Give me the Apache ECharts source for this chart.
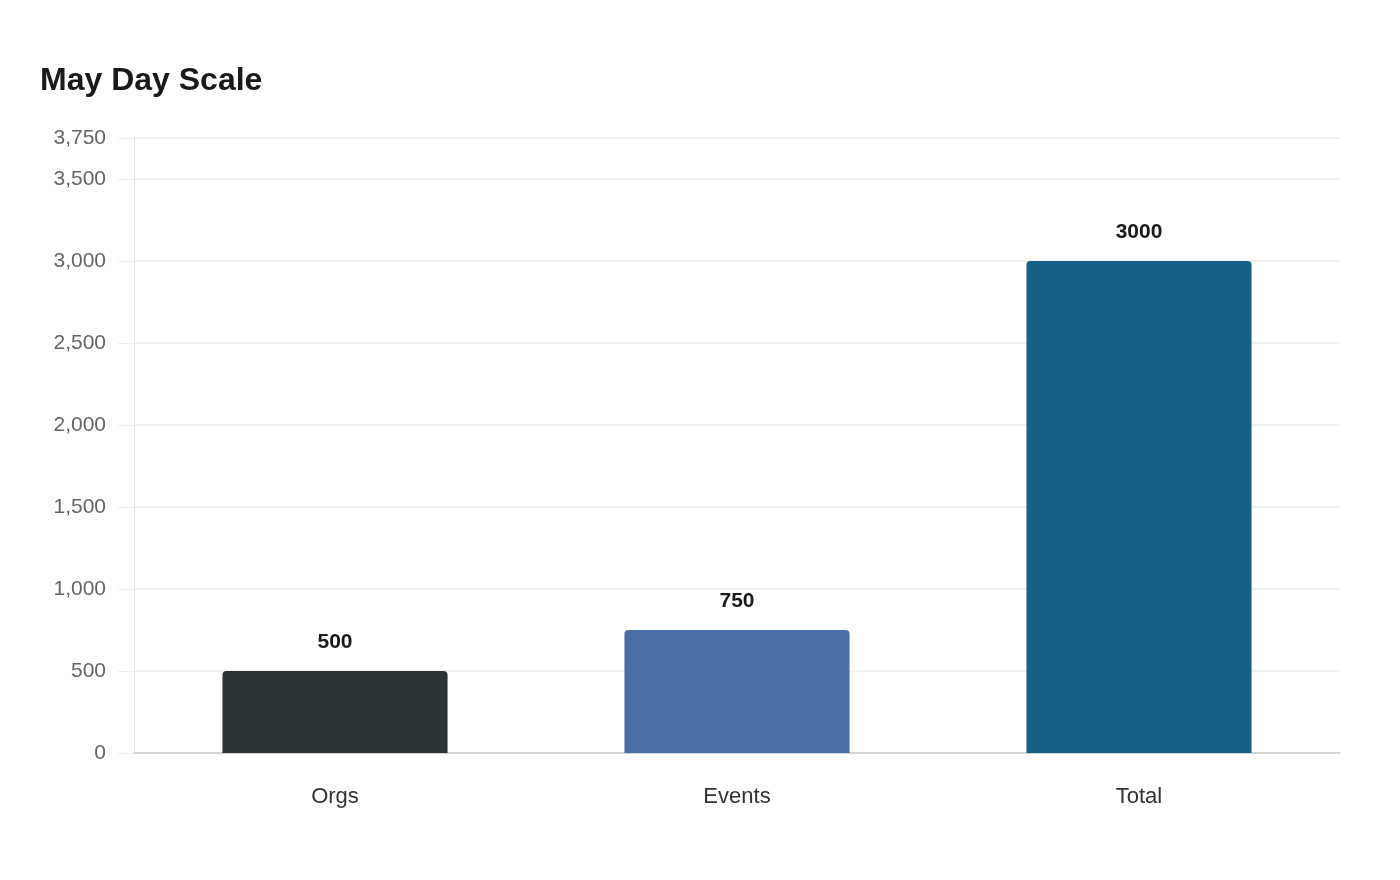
<!DOCTYPE html>
<html>
<head>
<meta charset="utf-8">
<script src="https://cdn.jsdelivr.net/npm/echarts@6/dist/echarts.min.js"></script>
<style>
	html, body { margin: 0; padding: 0; background: #fff; }
	#chart { width: 1400px; height: 880px; }
</style>
</head>
<body>
<div id="chart"></div>
<script>
// chart data
var categories = ['Orgs', 'Events', 'Total']
var values = [500, 750, 3000]
var barColors = ['#2d3436', '#4a6fa5', '#166088']

var fontName = '"Liberation Sans", Arial, sans-serif'

var myChart = echarts.init(document.getElementById('chart'))
var option = {
	animation: false,
	textStyle: { fontFamily: fontName },
	title: {
		text: 'May Day Scale',
		left: 35,
		top: 60,
		textStyle: {
			fontFamily: fontName,
			fontSize: 32,
			fontWeight: 'bold',
			color: '#1a1a1a'
		}
	},
	grid: {
		left: 134,
		right: 60,
		top: 138,
		bottom: 127
	},
	xAxis: {
		type: 'category',
		data: categories,
		axisTick: { show: false },
		axisLine: { lineStyle: { color: '#cccccc', width: 1.5 } },
		axisLabel: {
			margin: 33,
			fontFamily: fontName,
			fontSize: 22,
			color: '#333'
		}
	},
	yAxis: {
		type: 'value',
		min: 0,
		max: 3750,
		interval: 500,
		axisLine: { show: true, lineStyle: { color: '#e0e0e0' } },
		axisTick: { show: true, length: 16, lineStyle: { color: '#eeeeee' } },
		splitLine: { lineStyle: { color: '#eeeeee', width: 1.5 } },
		axisLabel: {
			margin: 28,
			fontFamily: fontName,
			fontSize: 21,
			color: '#666',
			showMaxLabel: true,
			formatter: function (v) { return v.toLocaleString('en-US') }
		}
	},
	series: [{
		type: 'bar',
		barWidth: '56%',
		data: values.map(function (v, i) {
			return { value: v, itemStyle: { color: barColors[i] } }
		}),
		itemStyle: { borderRadius: [4, 4, 0, 0] },
		label: {
			show: true,
			position: 'top',
			distance: 18,
			fontFamily: fontName,
			fontSize: 21,
			fontWeight: 'bold',
			color: '#1a1a1a'
		}
	}]
}
myChart.setOption(option)
</script>
</body>
</html>
